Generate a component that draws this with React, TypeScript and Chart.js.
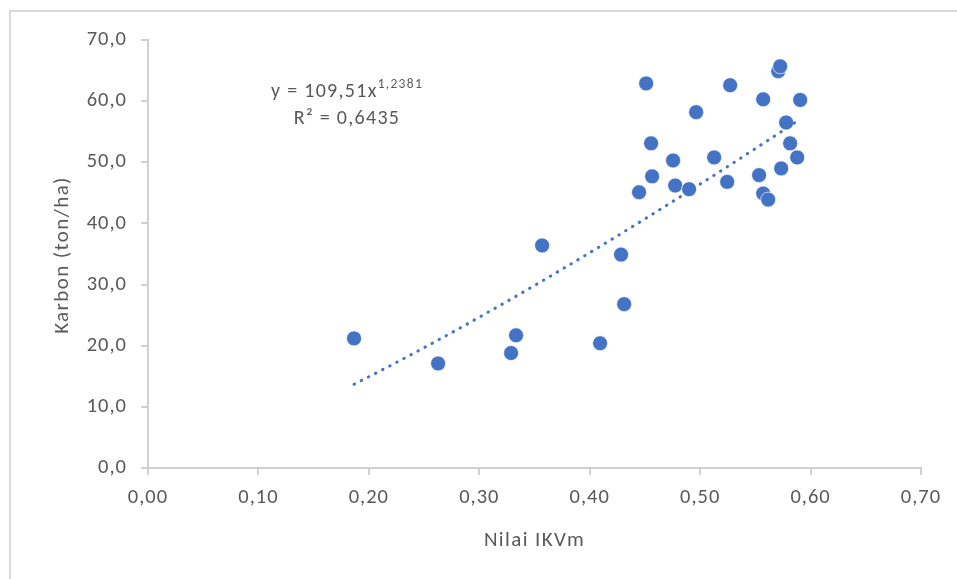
import { useEffect, useRef } from "react";
import { Chart, registerables } from "chart.js";

Chart.register(...registerables);

// Nilai IKVm (x) and Karbon (ton/ha) (y)
const ikvm = [
  0.1866, 0.2627, 0.3288, 0.3333, 0.3569, 0.4094, 0.4284, 0.4312, 0.4447, 0.4511,
  0.4556, 0.4565, 0.4755, 0.4774, 0.4900, 0.4964, 0.5127, 0.5245, 0.5272, 0.5534,
  0.5571, 0.5571, 0.5616, 0.5707, 0.5725, 0.5734, 0.5779, 0.5815, 0.5879, 0.5906,
];
const karbon = [
  21.2, 17.1, 18.8, 21.7, 36.4, 20.4, 34.9, 26.8, 45.1, 62.9,
  53.1, 47.7, 50.3, 46.2, 45.6, 58.2, 50.8, 46.8, 62.6, 47.9,
  60.3, 44.9, 43.9, 64.9, 65.7, 49.0, 56.5, 53.1, 50.8, 60.2,
];

const xTickLabels = ["0,00", "0,10", "0,20", "0,30", "0,40", "0,50", "0,60", "0,70"];
const yTickLabels = ["0,0", "10,0", "20,0", "30,0", "40,0", "50,0", "60,0", "70,0"];

// Power trendline reported in the chart: y = 109,51 x^1,2381, R² = 0,6435
const trendCoef = 109.51;
const trendExp = 1.2381;
const eqMain = "y = 109,51x";
const eqSup = "1,2381";
const r2Text = "R² = 0,6435";

const xTitle = "Nilai IKVm";
const yTitle = "Karbon (ton/ha)";

const FONT = "Carlito, Lato, 'Open Sans', sans-serif";
const TEXT = "#595959";
const AXIS = "#d0d0d0";
const BLUE = "#4472C4";

export default function App() {
  const ref = useRef<HTMLCanvasElement | null>(null);

  useEffect(() => {
    const canvas = ref.current;
    if (!canvas) return;

    const xMin = Math.min(...ikvm);
    const xMax = Math.max(...ikvm);
    const trend: { x: number; y: number }[] = [];
    const n = 80;
    for (let i = 0; i <= n; i++) {
      const x = xMin + ((xMax - xMin) * i) / n;
      trend.push({ x, y: trendCoef * Math.pow(x, trendExp) });
    }

    const framePlugin = {
      id: "frame",
      beforeDraw(chart: any) {
        const ctx = chart.ctx;
        ctx.save();
        ctx.fillStyle = "#ffffff";
        ctx.fillRect(0, 0, chart.width, chart.height);
        ctx.fillStyle = "#d9d9d9";
        ctx.fillRect(9, 10, 2, chart.height - 10);
        ctx.fillRect(9, 10, chart.width - 9, 2);
        ctx.restore();
        // slightly widen tick label spacing (applies to the scale labels drawn next)
        (ctx as any).letterSpacing = "1px";
      },
      afterDraw(chart: any) {
        const ctx = chart.ctx;
        const area = chart.chartArea;
        ctx.save();
        ctx.fillStyle = TEXT;
        ctx.textBaseline = "alphabetic";

        // equation annotation
        (ctx as any).letterSpacing = "1.3px";
        ctx.textAlign = "left";
        const cx = 347;
        ctx.font = `20px ${FONT}`;
        const wMain = ctx.measureText(eqMain).width;
        ctx.font = `13.5px ${FONT}`;
        const wSup = ctx.measureText(eqSup).width;
        const start = cx - (wMain + wSup) / 2;
        ctx.font = `20px ${FONT}`;
        ctx.fillText(eqMain, start, 97);
        ctx.font = `13.5px ${FONT}`;
        ctx.fillText(eqSup, start + wMain, 88);
        ctx.font = `20px ${FONT}`;
        ctx.textAlign = "center";
        ctx.fillText(r2Text, cx, 124);

        // axis titles
        (ctx as any).letterSpacing = "1.4px";
        ctx.font = `21px ${FONT}`;
        ctx.textAlign = "center";
        ctx.fillText(xTitle, (area.left + area.right) / 2, 546);
        ctx.save();
        ctx.translate(68, (area.top + area.bottom) / 2 + 1);
        ctx.rotate(-Math.PI / 2);
        ctx.fillText(yTitle, 0, 0);
        ctx.restore();

        ctx.restore();
        (ctx as any).letterSpacing = "0px";
      },
    };

    const chart = new Chart(canvas, {
      type: "scatter",
      data: {
        datasets: [
          {
            label: "Karbon",
            data: ikvm.map((x, i) => ({ x, y: karbon[i] })),
            backgroundColor: BLUE,
            borderColor: "rgba(255,255,255,0.7)",
            borderWidth: 1,
            pointRadius: 7.5,
            pointHoverRadius: 7.5,
            order: 2,
          },
          {
            type: "line",
            label: "Trend",
            data: trend,
            showLine: true,
            borderColor: BLUE,
            borderWidth: 3,
            borderDash: [0.5, 7.5],
            borderCapStyle: "round",
            pointRadius: 0,
            fill: false,
            tension: 0,
            order: 1,
          } as any,
        ],
      },
      options: {
        responsive: false,
        animation: false,
        devicePixelRatio: 1,
        layout: { padding: { top: 40, right: 36, left: 0, bottom: 0 } },
        plugins: {
          legend: { display: false },
          tooltip: { enabled: false },
        },
        scales: {
          x: {
            type: "linear",
            min: 0,
            max: 0.7,
            afterFit(scale: any) {
              scale.height = 111;
            },
            afterBuildTicks(scale: any) {
              scale.ticks = xTickLabels.map((_, i) => ({ value: i / 10 }));
            },
            ticks: {
              autoSkip: false,
              maxRotation: 0,
              padding: 11,
              color: TEXT,
              font: { family: FONT, size: 20.5 },
              callback: (_v: any, i: number) => xTickLabels[i],
            },
            grid: {
              drawOnChartArea: false,
              drawTicks: true,
              tickLength: 7,
              color: AXIS,
              lineWidth: 2,
            },
            border: { display: true, color: AXIS, width: 2 },
            title: { display: false },
          },
          y: {
            type: "linear",
            min: 0,
            max: 70,
            afterFit(scale: any) {
              scale.width = 148;
            },
            afterBuildTicks(scale: any) {
              scale.ticks = yTickLabels.map((_, i) => ({ value: i * 10 }));
            },
            ticks: {
              autoSkip: false,
              padding: 14,
              color: TEXT,
              font: { family: FONT, size: 20.5 },
              callback: (_v: any, i: number) => yTickLabels[i],
            },
            grid: {
              drawOnChartArea: false,
              drawTicks: true,
              tickLength: 7,
              color: AXIS,
              lineWidth: 2,
            },
            border: { display: true, color: AXIS, width: 2 },
            title: { display: false },
          },
        },
      },
      plugins: [framePlugin],
    } as any);

    return () => chart.destroy();
  }, []);

  return (
    <div style={{ position: "fixed", left: 0, top: 0, width: 957, height: 579 }}>
      <canvas ref={ref} width={957} height={579} style={{ display: "block", width: 957, height: 579 }} />
    </div>
  );
}
